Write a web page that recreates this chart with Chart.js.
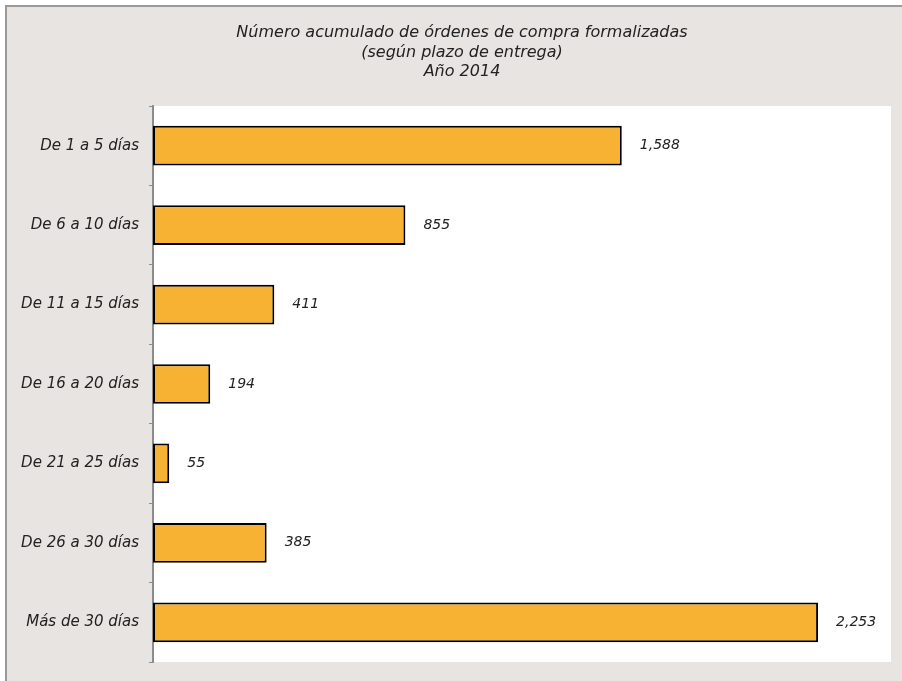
<!DOCTYPE html>
<html lang="es">
<head>
    <meta charset="UTF-8">
    <title>Órdenes de compra</title>
    <script src="https://cdn.jsdelivr.net/npm/chart.js"></script>
    <style>
        html, body { margin: 0; padding: 0; background: #ffffff; }
        .contenedor { width: 902px; height: 681px; position: relative; }
    </style>
</head>
<body>
    <div class="contenedor">
        <canvas id="grafico"></canvas>
    </div>
<script>
    // datos
    var categorias = ['De 1 a 5 días', 'De 6 a 10 días', 'De 11 a 15 días', 'De 16 a 20 días',
                      'De 21 a 25 días', 'De 26 a 30 días', 'Más de 30 días'];
    var ordenes = [1588, 855, 411, 194, 55, 385, 2253];
    var titulo = ['Número acumulado de órdenes de compra formalizadas', '(según plazo de entrega)', 'Año 2014'];

    var fuente = 'DejaVu Sans';

    // fondo gris con marco, area blanca y titulo
    var fondo = {
        id: 'fondo',
        beforeDraw: function (chart) {
            var ctx = chart.ctx;
            var a = chart.chartArea;
            ctx.save();
            ctx.fillStyle = '#ffffff';
            ctx.fillRect(0, 0, chart.width, chart.height);
            ctx.fillStyle = '#e8e4e1';
            ctx.fillRect(6, 6, chart.width - 6, chart.height - 6);
            ctx.strokeStyle = '#9a9a9a';
            ctx.lineWidth = 2;
            ctx.beginPath();
            ctx.moveTo(6, chart.height);
            ctx.lineTo(6, 6);
            ctx.lineTo(chart.width, 6);
            ctx.stroke();
            ctx.fillStyle = '#ffffff';
            ctx.fillRect(a.left, a.top, a.right - a.left, a.bottom - a.top);

            // titulo (centrado como en el original, no sobre el canvas)
            ctx.font = 'italic 16px "' + fuente + '"';
            ctx.fillStyle = '#222222';
            ctx.textAlign = 'center';
            ctx.textBaseline = 'middle';
            titulo.forEach(function (linea, i) {
                ctx.fillText(linea, 462, 33 + i * 19.5);
            });
            ctx.restore();
        }
    };

    // etiquetas de valor a la derecha de cada barra
    var etiquetas = {
        id: 'etiquetas',
        afterDatasetsDraw: function (chart) {
            var ctx = chart.ctx;
            var meta = chart.getDatasetMeta(0);
            ctx.save();
            ctx.font = 'italic 14px "' + fuente + '"';
            ctx.fillStyle = '#222222';
            ctx.textBaseline = 'middle';
            ctx.textAlign = 'left';
            meta.data.forEach(function (barra, i) {
                ctx.fillText(ordenes[i].toLocaleString('en-US'), barra.x + 18, barra.y);
            });
            ctx.restore();
        }
    };

    var data = {
        labels: categorias,
        datasets: [{
            label: 'Órdenes',
            data: ordenes,
            backgroundColor: '#f7b133',
            borderColor: '#000000',
            borderWidth: 2,
            borderSkipped: false,
            barPercentage: 0.5,
            categoryPercentage: 1
        }]
    };

    var config = {
        type: 'bar',
        data: data,
        options: {
            indexAxis: 'y',
            responsive: false,
            animation: false,
            layout: {
                padding: { top: 106, left: 0, right: 11, bottom: 17 }
            },
            plugins: {
                legend: { display: false },
                tooltip: { enabled: false },
                title: { display: false }
            },
            scales: {
                x: {
                    display: false,
                    min: 0,
                    max: 2500
                },
                y: {
                    afterFit: function (scale) { scale.width = 153; },
                    border: { color: '#8c8c8c', width: 2 },
                    grid: {
                        drawOnChartArea: false,
                        drawTicks: true,
                        tickLength: 4,
                        color: '#8c8c8c',
                        lineWidth: 1
                    },
                    ticks: {
                        color: '#222222',
                        padding: 10,
                        font: { family: fuente, size: 15, style: 'italic' }
                    }
                }
            }
        },
        plugins: [fondo, etiquetas]
    };

    var canvas = document.getElementById('grafico');
    canvas.width = 902;
    canvas.height = 681;
    var myChart = new Chart(canvas, config);
</script>
</body>
</html>
